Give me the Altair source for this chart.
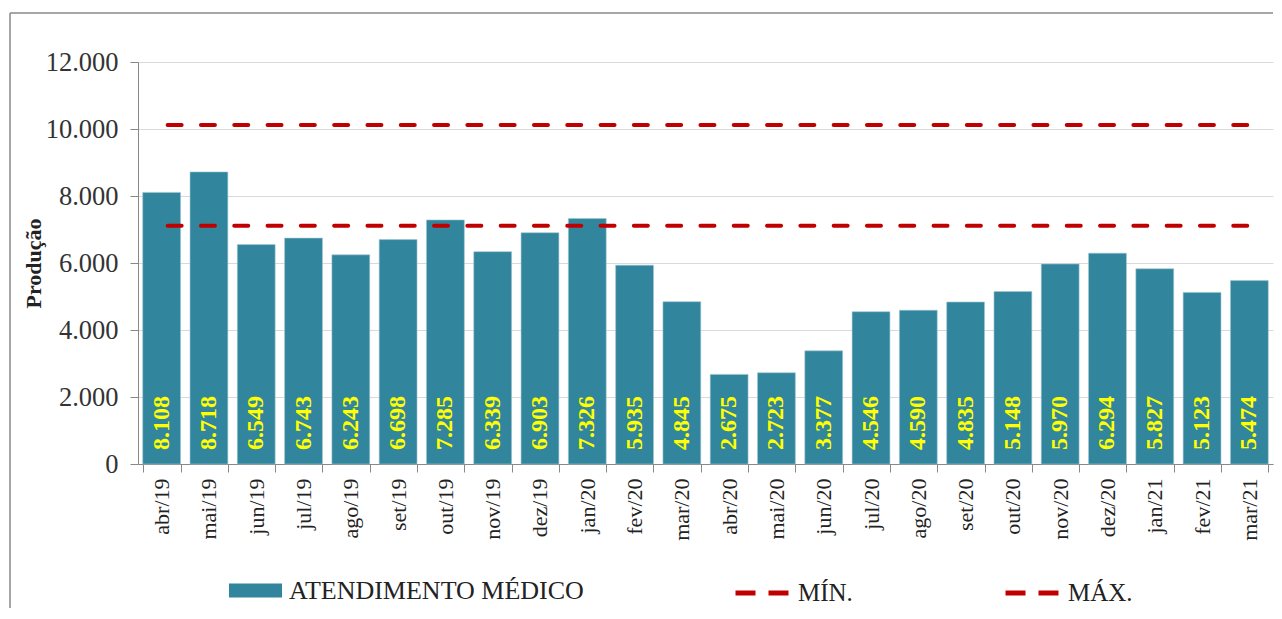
import altair as alt
import pandas as pd

meses = ["abr/19", "mai/19", "jun/19", "jul/19", "ago/19", "set/19", "out/19", "nov/19",
         "dez/19", "jan/20", "fev/20", "mar/20", "abr/20", "mai/20", "jun/20", "jul/20",
         "ago/20", "set/20", "out/20", "nov/20", "dez/20", "jan/21", "fev/21", "mar/21"]
atendimentos = [8108, 8718, 6549, 6743, 6243, 6698, 7285, 6339, 6903, 7326, 5935, 4845,
                2675, 2723, 3377, 4546, 4590, 4835, 5148, 5970, 6294, 5827, 5123, 5474]
limite_min = 7110
limite_max = 10120
serie_barra = ["ATENDIMENTO MÉDICO"]
series_linhas = ["MÍN.", "MÁX."]
y_ticks = [0, 2000, 4000, 6000, 8000, 10000, 12000]

TEAL = "#31859C"
RED = "#C00000"
SERIF = "Liberation Serif"
W, H = 1135, 402

bars_df = pd.DataFrame({"mes": meses, "valor": atendimentos, "serie": serie_barra[0]})
lines_df = pd.concat([
    pd.DataFrame({"mes": meses, "valor": [limite_min] * len(meses), "serie": series_linhas[0]}),
    pd.DataFrame({"mes": meses, "valor": [limite_max] * len(meses), "serie": series_linhas[1]}),
])

x_enc = alt.X(
    "mes:N", sort=meses,
    scale=alt.Scale(paddingInner=0.2, paddingOuter=0.1),
    axis=alt.Axis(title=None, labelAngle=-90, labelFont=SERIF, labelFontSize=22,
                  labelColor="#222", labelPadding=6, tickSize=8, tickBand="extent",
                  tickColor="#888", domainColor="#888", grid=False),
)
y_enc = alt.Y(
    "valor:Q", scale=alt.Scale(domain=[0, 12000]),
    axis=alt.Axis(values=y_ticks, title="Produção",
                  labelExpr="replace(format(datum.value, ',.0f'), ',', '.')",
                  labelFont=SERIF, labelFontSize=26.5, labelColor="#333", labelPadding=12,
                  tickSize=8, tickColor="#888", domainColor="#888",
                  gridColor="#D9D9D9", titleFont=SERIF, titleFontSize=22,
                  titleFontWeight="bold", titleColor="#222", titlePadding=0),
)

legend_common = dict(title=None, orient="none", direction="horizontal",
                     labelFont=SERIF, labelLimit=500,
                     labelColor="#222", labelOffset=7, symbolSize=2809)

bars = alt.Chart(bars_df).mark_bar(stroke="#9FC6D3", strokeWidth=0.6).encode(
    x=x_enc, y=y_enc,
    fill=alt.Fill("serie:N", scale=alt.Scale(domain=serie_barra, range=[TEAL]),
                  legend=alt.Legend(legendX=91, legendY=502, columns=1, labelFontSize=26,
                                    symbolType="M-1,-0.26H1V0.26H-1Z",
                                    symbolStrokeWidth=0, **legend_common)),
)

labels = alt.Chart(bars_df).transform_calculate(
    rotulo="replace(format(datum.valor, ',.0f'), ',', '.')"
).mark_text(angle=270, align="left", baseline="middle", dx=14, font=SERIF, fontSize=24,
            fontWeight="bold", color="#FFFF00").encode(
    x=alt.X("mes:N", sort=meses), y=alt.datum(0), text="rotulo:N",
)

lines = alt.Chart(lines_df).mark_line(strokeWidth=4, strokeDash=[14, 19.3],
                                      strokeDashOffset=-6, strokeCap="round").encode(
    x=alt.X("mes:N", sort=meses), y="valor:Q",
    stroke=alt.Stroke("serie:N", scale=alt.Scale(domain=series_linhas, range=[RED, RED]),
                      legend=alt.Legend(legendX=595, legendY=502, columns=2,
                                        columnPadding=142, labelFontSize=25,
                                        symbolType="stroke", symbolStrokeWidth=5,
                                        symbolDash=[20, 13], **legend_common)),
)

frame_df = pd.DataFrame({"k": [0]})
frame_left = alt.Chart(frame_df).mark_rule(color="#888", strokeWidth=1.5, clip=False).encode(
    x=alt.value(-128), y=alt.value(-49), y2=alt.value(H + 144),
)
frame_top = alt.Chart(frame_df).mark_rule(color="#888", strokeWidth=1.5, clip=False).encode(
    x=alt.value(-128), x2=alt.value(W), y=alt.value(-49),
)

chart = alt.layer(bars, labels, lines, frame_left, frame_top).resolve_legend(
    fill="independent", stroke="independent"
).properties(
    width=W, height=H, padding={"left": 1, "top": 4, "right": 0, "bottom": 0},
    background="white",
).configure_view(strokeWidth=0)

chart.save("out.html", embed_options={"renderer": "svg", "actions": False})
